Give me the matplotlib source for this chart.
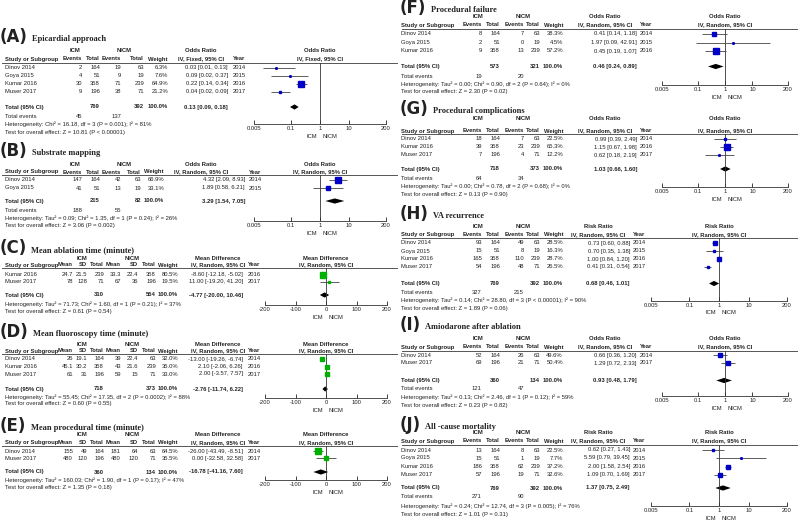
import numpy as np
import matplotlib.pyplot as plt
from matplotlib.ticker import NullLocator

plt.rcParams['font.family'] = ['Liberation Sans', 'DejaVu Sans']

W, H = 800, 522
FS = 4.2
INK = '#222222'
BLUE = '#0000c8'
GREEN = '#00b000'

# ---------------- data ----------------
# (A) Epicardial approach
A_study = ['Dinov 2014', 'Goya 2015', 'Kumar 2016', 'Muser 2017']
A_year = [2014, 2015, 2016, 2017]
A_icm_ev = [2, 4, 30, 9]
A_icm_n = [164, 51, 358, 196]
A_nicm_ev = [19, 9, 71, 38]
A_nicm_n = [63, 19, 239, 71]
A_weight = [6.3, 7.6, 64.9, 21.2]
A_est = [0.03, 0.09, 0.22, 0.04]
A_lo = [0.01, 0.02, 0.14, 0.02]
A_hi = [0.13, 0.37, 0.34, 0.09]
A_tot_n = [769, 392]
A_tot_ev = [45, 137]
A_tot = [0.13, 0.09, 0.18]
A_het = 'Heterogeneity: Chi² = 16.18, df = 3 (P = 0.001); I² = 81%'
A_test = 'Test for overall effect: Z = 10.81 (P < 0.00001)'

# (B) Substrate mapping
B_study = ['Dinov 2014', 'Goya 2015']
B_year = [2014, 2015]
B_icm_ev = [147, 41]
B_icm_n = [164, 51]
B_nicm_ev = [42, 13]
B_nicm_n = [63, 19]
B_weight = [66.9, 33.1]
B_est = [4.32, 1.89]
B_lo = [2.09, 0.58]
B_hi = [8.93, 6.21]
B_tot_n = [215, 82]
B_tot_ev = [188, 55]
B_tot = [3.29, 1.54, 7.05]
B_het = 'Heterogeneity: Tau² = 0.09; Chi² = 1.35, df = 1 (P = 0.24); I² = 26%'
B_test = 'Test for overall effect: Z = 3.06 (P = 0.002)'

# (C) Mean ablation time
C_study = ['Kumar 2016', 'Muser 2017']
C_year = [2016, 2017]
C_icm_mean = [24.7, 78]
C_icm_sd = [21.5, 128]
C_icm_n = [239, 71]
C_nicm_mean = [33.3, 67]
C_nicm_sd = [22.4, 36]
C_nicm_n = [358, 196]
C_weight = [80.5, 19.5]
C_est = [-8.60, 11.00]
C_lo = [-12.18, -19.20]
C_hi = [-5.02, 41.20]
C_tot_n = [310, 554]
C_tot = [-4.77, -20.00, 10.46]
C_het = 'Heterogeneity: Tau² = 71.73; Chi² = 1.60, df = 1 (P = 0.21); I² = 37%'
C_test = 'Test for overall effect: Z = 0.61 (P = 0.54)'

# (D) Mean fluoroscopy time
D_study = ['Dinov 2014', 'Kumar 2016', 'Muser 2017']
D_year = [2014, 2016, 2017]
D_icm_mean = [26, 45.1, 61]
D_icm_sd = [19.1, 30.2, 31]
D_icm_n = [164, 358, 196]
D_nicm_mean = [39, 43, 59]
D_nicm_sd = [22.4, 21.6, 15]
D_nicm_n = [63, 239, 71]
D_weight = [32.0, 35.0, 33.0]
D_est = [-13.00, 2.10, 2.00]
D_lo = [-19.26, -2.06, -3.57]
D_hi = [-6.74, 6.26, 7.57]
D_tot_n = [718, 373]
D_tot = [-2.76, -11.74, 6.22]
D_het = 'Heterogeneity: Tau² = 55.45; Chi² = 17.35, df = 2 (P = 0.0002); I² = 88%'
D_test = 'Test for overall effect: Z = 0.60 (P = 0.55)'

# (E) Mean procedural time
E_study = ['Dinov 2014', 'Muser 2017']
E_year = [2014, 2017]
E_icm_mean = [155, 480]
E_icm_sd = [49, 120]
E_icm_n = [164, 196]
E_nicm_mean = [181, 480]
E_nicm_sd = [64, 120]
E_nicm_n = [63, 71]
E_weight = [64.5, 35.5]
E_est = [-26.00, 0.00]
E_lo = [-43.49, -32.58]
E_hi = [-8.51, 32.58]
E_tot_n = [360, 134]
E_tot = [-16.78, -41.16, 7.60]
E_het = 'Heterogeneity: Tau² = 160.03; Chi² = 1.90, df = 1 (P = 0.17); I² = 47%'
E_test = 'Test for overall effect: Z = 1.35 (P = 0.18)'

# (F) Procedural failure
F_study = ['Dinov 2014', 'Goya 2015', 'Kumar 2016']
F_year = [2014, 2015, 2016]
F_icm_ev = [8, 2, 9]
F_icm_n = [164, 51, 358]
F_nicm_ev = [7, 0, 13]
F_nicm_n = [63, 19, 239]
F_weight = [38.3, 4.5, 57.2]
F_est = [0.41, 1.97, 0.45]
F_lo = [0.14, 0.09, 0.19]
F_hi = [1.18, 42.91, 1.07]
F_tot_n = [573, 321]
F_tot_ev = [19, 20]
F_tot = [0.46, 0.24, 0.89]
F_het = 'Heterogeneity: Tau² = 0.00; Chi² = 0.90, df = 2 (P = 0.64); I² = 0%'
F_test = 'Test for overall effect: Z = 2.30 (P = 0.02)'

# (G) Procedural complications
G_study = ['Dinov 2014', 'Kumar 2016', 'Muser 2017']
G_year = [2014, 2016, 2017]
G_icm_ev = [18, 39, 7]
G_icm_n = [164, 358, 196]
G_nicm_ev = [7, 23, 4]
G_nicm_n = [63, 239, 71]
G_weight = [22.5, 65.3, 12.2]
G_est = [0.99, 1.15, 0.62]
G_lo = [0.39, 0.67, 0.18]
G_hi = [2.49, 1.98, 2.19]
G_tot_n = [718, 373]
G_tot_ev = [64, 34]
G_tot = [1.03, 0.66, 1.60]
G_het = 'Heterogeneity: Tau² = 0.00; Chi² = 0.78, df = 2 (P = 0.68); I² = 0%'
G_test = 'Test for overall effect: Z = 0.13 (P = 0.90)'

# (H) VA recurrence
H_study = ['Dinov 2014', 'Goya 2015', 'Kumar 2016', 'Muser 2017']
H_year = [2014, 2015, 2016, 2017]
H_icm_ev = [93, 15, 165, 54]
H_icm_n = [164, 51, 358, 196]
H_nicm_ev = [49, 8, 110, 48]
H_nicm_n = [63, 19, 239, 71]
H_weight = [28.5, 16.3, 28.7, 26.5]
H_est = [0.73, 0.70, 1.00, 0.41]
H_lo = [0.60, 0.35, 0.84, 0.31]
H_hi = [0.88, 1.38, 1.20, 0.54]
H_tot_n = [769, 392]
H_tot_ev = [327, 215]
H_tot = [0.68, 0.46, 1.01]
H_het = 'Heterogeneity: Tau² = 0.14; Chi² = 28.80, df = 3 (P < 0.00001); I² = 90%'
H_test = 'Test for overall effect: Z = 1.89 (P = 0.06)'

# (I) Amiodarone after ablation
I_study = ['Dinov 2014', 'Muser 2017']
I_year = [2014, 2017]
I_icm_ev = [52, 69]
I_icm_n = [164, 196]
I_nicm_ev = [26, 21]
I_nicm_n = [63, 71]
I_weight = [49.6, 50.4]
I_est = [0.66, 1.29]
I_lo = [0.36, 0.72]
I_hi = [1.20, 2.33]
I_tot_n = [360, 134]
I_tot_ev = [121, 47]
I_tot = [0.93, 0.48, 1.79]
I_het = 'Heterogeneity: Tau² = 0.13; Chi² = 2.46, df = 1 (P = 0.12); I² = 59%'
I_test = 'Test for overall effect: Z = 0.23 (P = 0.82)'

# (J) All-cause mortality
J_study = ['Dinov 2014', 'Goya 2015', 'Kumar 2016', 'Muser 2017']
J_year = [2014, 2015, 2016, 2017]
J_icm_ev = [13, 15, 186, 57]
J_icm_n = [164, 51, 358, 196]
J_nicm_ev = [8, 1, 62, 19]
J_nicm_n = [63, 19, 239, 71]
J_weight = [22.5, 7.7, 37.2, 32.6]
J_est = [0.62, 5.59, 2.00, 1.09]
J_lo = [0.27, 0.79, 1.58, 0.70]
J_hi = [1.43, 39.45, 2.54, 1.69]
J_tot_n = [769, 392]
J_tot_ev = [271, 90]
J_tot = [1.37, 0.75, 2.49]
J_het = 'Heterogeneity: Tau² = 0.24; Chi² = 12.74, df = 3 (P = 0.005); I² = 76%'
J_test = 'Test for overall effect: Z = 1.01 (P = 0.31)'


def ratio_panel(tag, title, measure, method, study, year, icm_ev, icm_n, nicm_ev, nicm_n,
                weight, est, lo, hi, tot_n, tot_ev, tot, het, test):
    return dict(tag=tag, title=title, measure=measure, method=method, kind='ratio',
                study=study, year=year, cells=[icm_ev, icm_n, nicm_ev, nicm_n],
                col_names=['Events', 'Total', 'Events', 'Total'], tot_cols=[1, 3],
                weight=weight, est=est, lo=lo, hi=hi, tot_n=tot_n, tot_ev=tot_ev,
                tot=tot, het=het, test=test)


def md_panel(tag, title, study, year, icm_mean, icm_sd, icm_n, nicm_mean, nicm_sd, nicm_n,
             weight, est, lo, hi, tot_n, tot, het, test):
    return dict(tag=tag, title=title, measure='Mean Difference', method='IV, Random, 95% CI',
                kind='md', study=study, year=year,
                cells=[icm_mean, icm_sd, icm_n, nicm_mean, nicm_sd, nicm_n],
                col_names=['Mean', 'SD', 'Total', 'Mean', 'SD', 'Total'], tot_cols=[2, 5],
                weight=weight, est=est, lo=lo, hi=hi, tot_n=tot_n, tot_ev=None,
                tot=tot, het=het, test=test)


OR_R = 'IV, Random, 95% CI'
panels = {
    'A': ratio_panel('A', 'Epicardial approach', 'Odds Ratio', 'IV, Fixed, 95% CI', A_study, A_year,
                     A_icm_ev, A_icm_n, A_nicm_ev, A_nicm_n, A_weight, A_est, A_lo, A_hi,
                     A_tot_n, A_tot_ev, A_tot, A_het, A_test),
    'B': ratio_panel('B', 'Substrate mapping', 'Odds Ratio', OR_R, B_study, B_year,
                     B_icm_ev, B_icm_n, B_nicm_ev, B_nicm_n, B_weight, B_est, B_lo, B_hi,
                     B_tot_n, B_tot_ev, B_tot, B_het, B_test),
    'C': md_panel('C', 'Mean ablation time (minute)', C_study, C_year, C_icm_mean, C_icm_sd, C_icm_n,
                  C_nicm_mean, C_nicm_sd, C_nicm_n, C_weight, C_est, C_lo, C_hi,
                  C_tot_n, C_tot, C_het, C_test),
    'D': md_panel('D', 'Mean fluoroscopy time (minute)', D_study, D_year, D_icm_mean, D_icm_sd, D_icm_n,
                  D_nicm_mean, D_nicm_sd, D_nicm_n, D_weight, D_est, D_lo, D_hi,
                  D_tot_n, D_tot, D_het, D_test),
    'E': md_panel('E', 'Mean procedural time (minute)', E_study, E_year, E_icm_mean, E_icm_sd, E_icm_n,
                  E_nicm_mean, E_nicm_sd, E_nicm_n, E_weight, E_est, E_lo, E_hi,
                  E_tot_n, E_tot, E_het, E_test),
    'F': ratio_panel('F', 'Procedural failure', 'Odds Ratio', OR_R, F_study, F_year,
                     F_icm_ev, F_icm_n, F_nicm_ev, F_nicm_n, F_weight, F_est, F_lo, F_hi,
                     F_tot_n, F_tot_ev, F_tot, F_het, F_test),
    'G': ratio_panel('G', 'Procedural complications', 'Odds Ratio', OR_R, G_study, G_year,
                     G_icm_ev, G_icm_n, G_nicm_ev, G_nicm_n, G_weight, G_est, G_lo, G_hi,
                     G_tot_n, G_tot_ev, G_tot, G_het, G_test),
    'H': ratio_panel('H', 'VA recurrence', 'Risk Ratio', OR_R, H_study, H_year,
                     H_icm_ev, H_icm_n, H_nicm_ev, H_nicm_n, H_weight, H_est, H_lo, H_hi,
                     H_tot_n, H_tot_ev, H_tot, H_het, H_test),
    'I': ratio_panel('I', 'Amiodarone after ablation', 'Odds Ratio', OR_R, I_study, I_year,
                     I_icm_ev, I_icm_n, I_nicm_ev, I_nicm_n, I_weight, I_est, I_lo, I_hi,
                     I_tot_n, I_tot_ev, I_tot, I_het, I_test),
    'J': ratio_panel('J', 'All -cause mortality', 'Risk Ratio', OR_R, J_study, J_year,
                     J_icm_ev, J_icm_n, J_nicm_ev, J_nicm_n, J_weight, J_est, J_lo, J_hi,
                     J_tot_n, J_tot_ev, J_tot, J_het, J_test),
}

# ---------------- layout (pixels) ----------------
L_OR = dict(x0=0, study=5, groups=[75, 124], cols=[82, 100, 121, 144], weight=168,
            eff_hdr=201, eff=228, year=233, forest=(254, 386))
L_OR_B = dict(L_OR, cols=[82, 100, 121, 141], weight=164, eff=245, year=249)
L_MD = dict(x0=0, study=5, groups=[82, 132], cols=[73, 87, 104, 121, 138, 156], weight=178,
            eff_hdr=218, eff=243, year=248, forest=(265, 387))
R_OR = dict(x0=400, study=401, groups=[478, 523], cols=[482, 500, 524, 540], weight=563,
            eff_hdr=605, eff=637, year=640, forest=(662, 788))
R_RR = dict(R_OR, eff_hdr=598, eff=630, year=633, forest=(651, 787))

layouts = {'A': L_OR, 'B': L_OR_B, 'C': L_MD, 'D': L_MD, 'E': L_MD,
           'F': R_OR, 'G': R_OR, 'H': R_RR, 'I': R_OR, 'J': R_RR}

rows_y = {
    'A': dict(title=37, h1=51, h2=59, line=63, rows=[67.5, 75.5, 83.5, 91.5], total=107,
              events=116, het=124.5, test=132.5, axis=124),
    'B': dict(title=151, h1=164, h2=172, line=175, rows=[179.5, 188], total=201,
              events=210, het=218, test=226, axis=221),
    'C': dict(title=248, h1=258, h2=265, line=268, rows=[274.5, 281.5], total=295,
              events=None, het=304, test=312, axis=305),
    'D': dict(title=332, h1=344, h2=351, line=354, rows=[359, 366.5, 374], total=389,
              events=None, het=397, test=404, axis=398),
    'E': dict(title=426, h1=434.5, h2=442.5, line=446, rows=[451.5, 458.5], total=472,
              events=None, het=480.5, test=488, axis=479.5),
    'F': dict(title=8, h1=17, h2=25, line=29, rows=[33.5, 42.5, 51], total=66.5,
              events=76, het=84, test=92, axis=85),
    'G': dict(title=109, h1=119, h2=131, line=134, rows=[139, 147, 155], total=169,
              events=178, het=186.5, test=194.5, axis=187),
    'H': dict(title=214, h1=226.5, h2=234.5, line=238, rows=[243, 251, 259, 266.5], total=283.5,
              events=292.5, het=300.5, test=308.5, axis=300.5),
    'I': dict(title=325, h1=339, h2=347, line=351, rows=[355.5, 363], total=380.5,
              events=389, het=397, test=405, axis=396),
    'J': dict(title=425, h1=433, h2=441, line=445, rows=[450, 458, 466.5, 474.5], total=488,
              events=497, het=506, test=514.5, axis=505.5),
}

fig = plt.figure(figsize=(8, 5.22), dpi=100)
bg = fig.add_axes([0, 0, 1, 1])
bg.set_xlim(0, W)
bg.set_ylim(H, 0)
bg.axis('off')


def txt(x, y, s, ha='left', bold=False):
    bg.text(x, y, s, ha=ha, va='center', fontsize=FS, color=INK,
            fontweight='bold' if bold else 'normal')


def ci_str(e, lo, hi):
    return '%.2f [%.2f, %.2f]' % (e, lo, hi)


def box_size(w):
    # square side in points, grows with study weight
    return max(1.1, 5.0 * (w / 80.0) ** 0.8)


def draw(p, lay, yy):
    # title
    t = bg.text(lay['x0'], yy['title'], '(%s)' % p['tag'], fontsize=12, fontweight='bold',
                family='DejaVu Sans', va='center', ha='left', color=INK)
    bg.annotate(p['title'], xy=(1, 0.4), xycoords=t, xytext=(3, 0), textcoords='offset points',
                va='center', ha='left', fontsize=6, fontweight='bold',
                family='Liberation Serif', color=INK)

    # table header
    for gx, g in zip(lay['groups'], ['ICM', 'NICM']):
        txt(gx, yy['h1'], g, ha='center', bold=True)
    txt(lay['study'], yy['h2'], 'Study or Subgroup', bold=True)
    for cx, name in zip(lay['cols'], p['col_names']):
        txt(cx, yy['h2'], name, ha='right', bold=True)
    txt(lay['weight'], yy['h2'], 'Weight', ha='right', bold=True)
    txt(lay['eff_hdr'], yy['h1'], p['measure'], ha='center', bold=True)
    txt(lay['eff_hdr'], yy['h2'], p['method'], ha='center', bold=True)
    txt(lay['year'], yy['h2'], 'Year', bold=True)
    fx0, fx1 = lay['forest']
    txt((fx0 + fx1) / 2, yy['h1'], p['measure'], ha='center', bold=True)
    txt((fx0 + fx1) / 2, yy['h2'], p['method'], ha='center', bold=True)
    bg.plot([lay['x0'] + 2, lay['x0'] + 397], [yy['line'], yy['line']], color='#555555', lw=0.7)

    # study rows
    for i, y in enumerate(yy['rows']):
        txt(lay['study'], y, p['study'][i])
        for cx, col in zip(lay['cols'], p['cells']):
            txt(cx, y, '%g' % col[i], ha='right')
        txt(lay['weight'], y, '%.1f%%' % p['weight'][i], ha='right')
        txt(lay['eff'], y, ci_str(p['est'][i], p['lo'][i], p['hi'][i]), ha='right')
        txt(lay['year'], y, str(p['year'][i]))

    # totals
    txt(lay['study'], yy['total'], 'Total (95% CI)', bold=True)
    for ci, n in zip(p['tot_cols'], p['tot_n']):
        txt(lay['cols'][ci], yy['total'], str(n), ha='right', bold=True)
    txt(lay['weight'], yy['total'], '100.0%', ha='right', bold=True)
    txt(lay['eff'], yy['total'], ci_str(*p['tot']), ha='right', bold=True)
    if p['tot_ev'] is not None:
        txt(lay['study'], yy['events'], 'Total events')
        for ci, n in zip([0, 2], p['tot_ev']):
            txt(lay['cols'][ci], yy['events'], str(n), ha='right')
    txt(lay['study'], yy['het'], p['het'])
    txt(lay['study'], yy['test'], p['test'])

    # forest plot
    ax = fig.add_axes([fx0 / W, 1 - yy['axis'] / H, (fx1 - fx0) / W,
                       (yy['axis'] - yy['line']) / H])
    ax.patch.set_alpha(0)
    ax.set_ylim(yy['axis'], yy['line'])
    if p['kind'] == 'md':
        ax.set_xlim(-200, 200)
        ticks = [-200, -100, 0, 100, 200]
        ref, color = 0, GREEN
    else:
        ax.set_xscale('log')
        ax.set_xlim(0.005, 200)
        ticks = [0.005, 0.1, 1, 10, 200]
        ref, color = 1, BLUE
    ax.set_xticks(ticks, ['%g' % v for v in ticks])
    ax.xaxis.set_minor_locator(NullLocator())
    ax.set_yticks([])
    for s in ('top', 'left', 'right'):
        ax.spines[s].set_visible(False)
    ax.spines['bottom'].set_linewidth(0.6)
    ax.spines['bottom'].set_color('#333333')
    ax.tick_params(axis='x', direction='in', length=3, width=0.6, pad=1.5,
                   labelsize=FS, colors=INK)
    ax.axvline(ref, color='#333333', lw=0.6)

    ax.hlines(yy['rows'], p['lo'], p['hi'], color='#444444', lw=0.6)
    for y, e, w in zip(yy['rows'], p['est'], p['weight']):
        ax.plot(e, y, marker='s', ms=box_size(w), color=color, mec=color, ls='none')
    e, lo, hi = p['tot']
    yt = yy['total']
    ax.fill([lo, e, hi, e], [yt, yt - 2.6, yt, yt + 2.6], color='black', lw=0)

    ax.annotate('ICM', xy=(ref, 0), xycoords=('data', 'axes fraction'), xytext=(-2, -9),
                textcoords='offset points', ha='right', va='center', fontsize=FS,
                color=INK, annotation_clip=False)
    ax.annotate('NICM', xy=(ref, 0), xycoords=('data', 'axes fraction'), xytext=(2, -9),
                textcoords='offset points', ha='left', va='center', fontsize=FS,
                color=INK, annotation_clip=False)


for key in 'ABCDEFGHIJ':
    draw(panels[key], layouts[key], rows_y[key])

fig.savefig('out.png', dpi=100, facecolor='white')
